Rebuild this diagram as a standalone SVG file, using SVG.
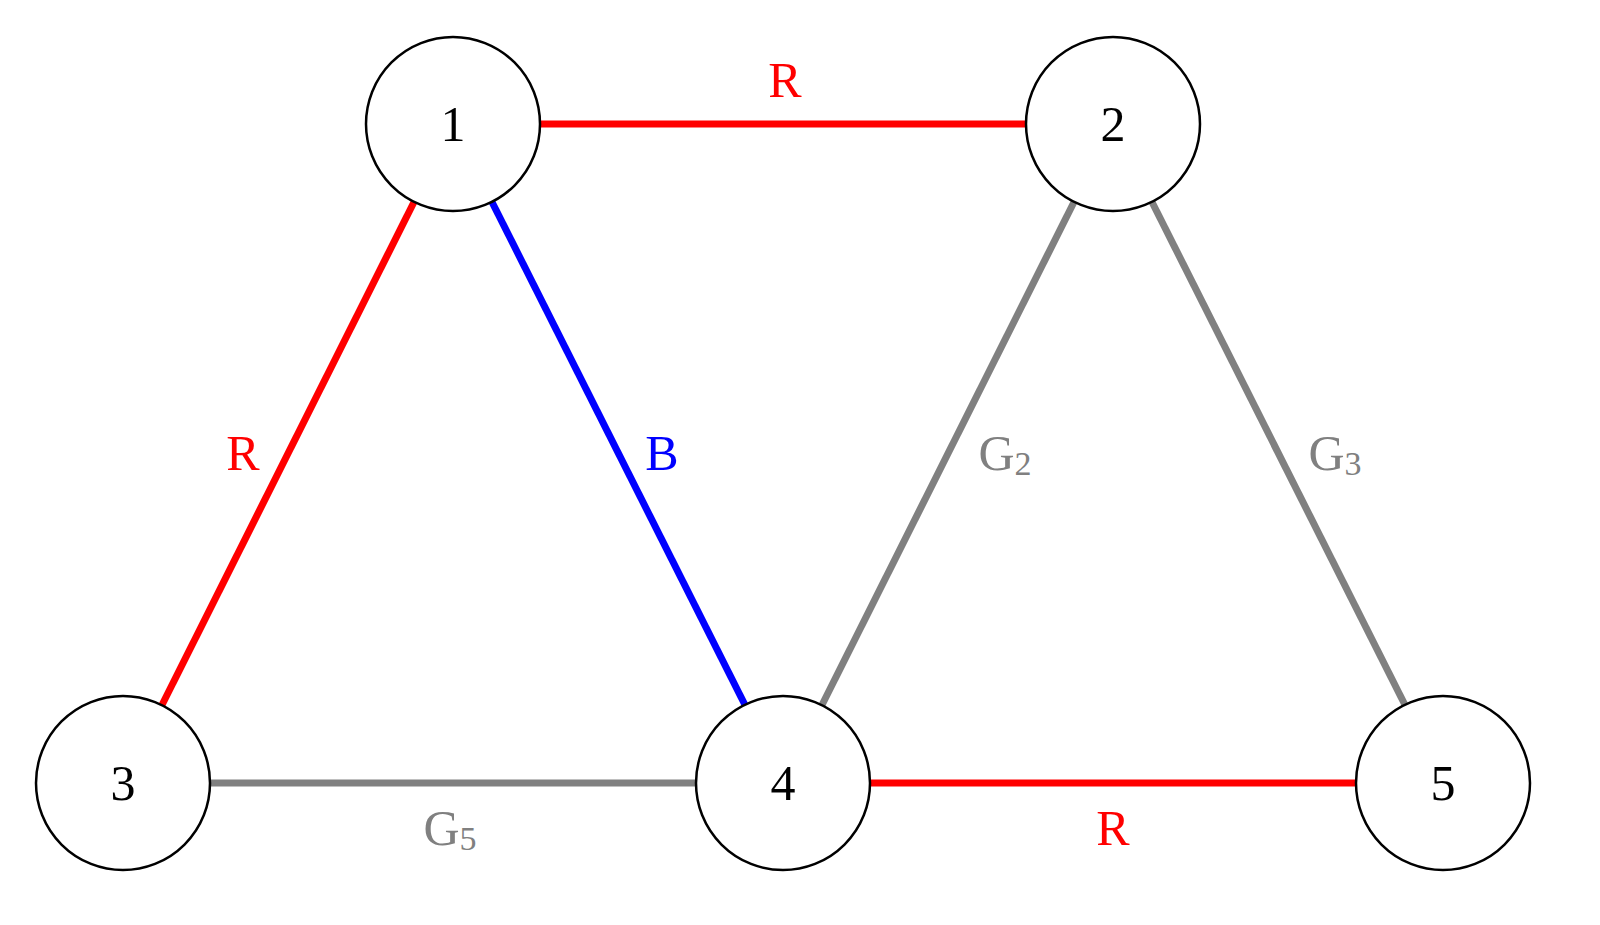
<svg xmlns="http://www.w3.org/2000/svg" width="1600" height="925" viewBox="0 0 1600 925">
<style>
.n{fill:#fff;stroke:#000;stroke-width:2.5}
.t{font-family:"Liberation Serif",serif;font-size:50px;text-anchor:middle;dominant-baseline:central}
.e{stroke-width:7;fill:none}
.r{stroke:#f00}.b{stroke:#00f}.g{stroke:#808080}
</style>
<rect width="1600" height="925" fill="#fff"/>
<g id="edges">
<line class="e r" x1="540" y1="124" x2="1026" y2="124"/>
<line class="e r" x1="414" y1="202" x2="162" y2="705"/>
<line class="e b" x1="492" y1="202" x2="745" y2="705"/>
<line class="e g" x1="1074" y1="202" x2="822" y2="705"/>
<line class="e g" x1="1152" y1="202" x2="1405" y2="705"/>
<line class="e g" x1="210" y1="783" x2="696" y2="783"/>
<line class="e r" x1="870" y1="783" x2="1356" y2="783"/>
<text class="t" x="785" y="80" fill="#f00">R</text>
<text class="t" x="243" y="453" fill="#f00">R</text>
<text class="t" x="662" y="453" fill="#00f">B</text>
<text class="t" x="1005" y="453" fill="#808080">G<tspan font-size="34" dy="10">2</tspan></text>
<text class="t" x="1335" y="453" fill="#808080">G<tspan font-size="34" dy="10">3</tspan></text>
<text class="t" x="450" y="828" fill="#808080">G<tspan font-size="34" dy="10">5</tspan></text>
<text class="t" x="1113" y="828" fill="#f00">R</text>
</g>
<g id="n1"><circle class="n" cx="453" cy="124" r="87"/><text class="t" x="453" y="124">1</text></g>
<g id="n2"><circle class="n" cx="1113" cy="124" r="87"/><text class="t" x="1113" y="124">2</text></g>
<g id="n3"><circle class="n" cx="123" cy="783" r="87"/><text class="t" x="123" y="783">3</text></g>
<g id="n4"><circle class="n" cx="783" cy="783" r="87"/><text class="t" x="783" y="783">4</text></g>
<g id="n5"><circle class="n" cx="1443" cy="783" r="87"/><text class="t" x="1443" y="783">5</text></g>
</svg>
